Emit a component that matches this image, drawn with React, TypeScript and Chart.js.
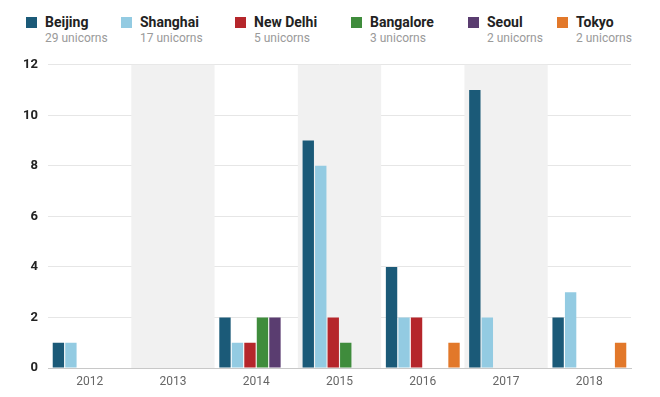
import React, { useEffect, useRef } from "react";
import { Chart, registerables } from "chart.js";

Chart.register(...registerables);

const years = ["2012", "2013", "2014", "2015", "2016", "2017", "2018"];
const cities = ["Beijing", "Shanghai", "New Delhi", "Bangalore", "Seoul", "Tokyo"];
const cityTotals = ["29 unicorns", "17 unicorns", "5 unicorns", "3 unicorns", "2 unicorns", "2 unicorns"];
const cityColors = ["#1b5a78", "#93cbe2", "#b5262b", "#3f8c3c", "#5a3d70", "#e2782a"];
const beijing = [1, 0, 2, 9, 4, 11, 2];
const shanghai = [1, 0, 1, 8, 2, 2, 3];
const newDelhi = [0, 0, 1, 2, 2, 0, 0];
const bangalore = [0, 0, 2, 1, 0, 0, 0];
const seoul = [0, 0, 2, 0, 0, 0, 0];
const tokyo = [0, 0, 0, 0, 1, 0, 1];
const seriesValues = [beijing, shanghai, newDelhi, bangalore, seoul, tokyo];
const shadedYears = ["2013", "2015", "2017"];
const legendLeft = [26, 121, 235, 351, 468, 557];

const FONT = "Roboto, 'Noto Sans', sans-serif";

const bandPlugin = {
  id: "bands",
  beforeDatasetsDraw(chart: any) {
    const { ctx, chartArea, scales } = chart;
    const x = scales.x;
    const w = (x.right - x.left) / years.length;
    ctx.save();
    ctx.fillStyle = "#f1f1f1";
    shadedYears.forEach((y) => {
      const i = years.indexOf(y);
      const c = x.getPixelForValue(i);
      ctx.fillRect(c - w / 2, chartArea.top, w, chartArea.bottom - chartArea.top);
    });
    ctx.restore();
  },
};

export default function App() {
  const ref = useRef<HTMLCanvasElement>(null);
  useEffect(() => {
    if (!ref.current) return;
    const chart = new Chart(ref.current, {
      type: "bar",
      data: {
        labels: years,
        datasets: cities.map((c, i) => ({
          label: c,
          data: seriesValues[i],
          backgroundColor: cityColors[i],
          borderWidth: 0,
          categoryPercentage: 0.9,
          barPercentage: 0.91,
        })),
      },
      options: {
        animation: false,
        responsive: false,
        maintainAspectRatio: false,
        layout: { padding: { left: 0, right: 29, top: 11, bottom: 0 } },
        plugins: { legend: { display: false }, tooltip: { enabled: false } },
        scales: {
          x: {
            grid: { display: false, drawTicks: false },
            border: { display: true, color: "#c8c8c8", width: 1 },
            ticks: { color: "#666", font: { family: FONT, size: 12 }, padding: 7 },
            afterFit(s: any) { s.height = 29; },
          },
          y: {
            min: 0,
            max: 12,
            ticks: { stepSize: 2, color: "#222", font: { family: FONT, size: 13, weight: "bold" }, padding: 10 },
            grid: { color: "#e6e6e6", drawTicks: false },
            border: { display: false },
            afterFit(s: any) { s.width = 48; },
          },
        },
      },
      plugins: [bandPlugin],
    } as any);
    return () => chart.destroy();
  }, []);

  return (
    <div style={{ position: "absolute", left: 0, top: 0, width: 660, height: 397, background: "#fff", fontFamily: FONT }}>
      {cities.map((c, i) => (
        <div key={c} style={{ position: "absolute", left: legendLeft[i], top: 0 }}>
          <div style={{ position: "absolute", left: 0, top: 17, width: 11, height: 11, background: cityColors[i] }} />
          <div style={{ position: "absolute", left: 19, top: 13, whiteSpace: "nowrap", fontSize: 14, fontWeight: "bold", color: "#222", lineHeight: "18px" }}>{c}</div>
          <div style={{ position: "absolute", left: 19, top: 30, whiteSpace: "nowrap", fontSize: 12, color: "#9a9a9a", lineHeight: "17px" }}>{cityTotals[i]}</div>
        </div>
      ))}
      <canvas ref={ref} width={660} height={350} style={{ position: "absolute", left: 0, top: 47, width: 660, height: 350 }} />
    </div>
  );
}
